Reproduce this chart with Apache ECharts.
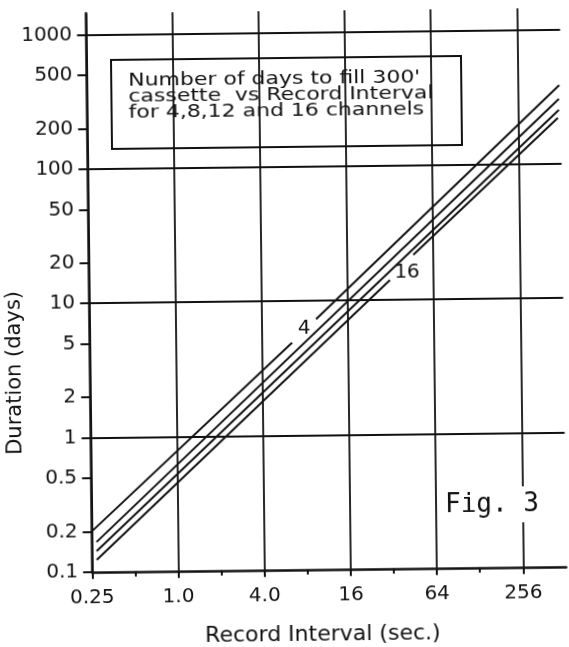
<!DOCTYPE html>
<html><head><meta charset="utf-8">
<script src="https://cdn.jsdelivr.net/npm/echarts@6/dist/echarts.min.js"></script>
<style>
html,body{margin:0;padding:0;background:#fff;overflow:hidden;}
#chart{width:569px;height:647px;transform:rotate(-0.65deg);transform-origin:50% 50%;}
</style></head><body><div id="chart"></div>
<script>
// ---- data ----
const xTickValues = [0.25, 1, 4, 16, 64, 256];
const xTickLabels = ['0.25', '1.0', '4.0', '16', '64', '256'];
const xMinorTicks = [0.5, 2, 8, 32, 128];
const yTickValues = [0.1, 0.2, 0.5, 1, 2, 5, 10, 20, 50, 100, 200, 500, 1000];
const yTickLabels = ['0.1', '0.2', '0.5', '1', '2', '5', '10', '20', '50', '100', '200', '500', '1000'];
const yGridValues = [1, 10, 100, 1000];
const channelNames = ['4 channels', '8 channels', '12 channels', '16 channels'];
const ch4 = [[0.25, 0.2], [6.5, 4.9], [8, '-'], [9.6, 7.3], [500, 385]];
const ch8 = [[0.27, 0.167], [496, 305]];
const ch12 = [[0.27, 0.143], [495, 252]];
const ch16 = [[0.27, 0.123], [31.7, 14.1], [38, '-'], [46.4, 21.6], [486, 220]];
const lineLabelNames = ['4', '16'];
const lineLabelCoords = [[7.9, 6.2], [41.8, 15.9]];
const boxText = ["Number of days to fill 300'", 'cassette  vs Record Interval', 'for 4,8,12 and 16 channels'];
const figText = 'Fig. 3';
const xTitle = 'Record Interval (sec.)';
const yTitle = 'Duration (days)';

// ---- chart ----
const INK = '#111111';
const FONT = 'DejaVu Sans';
function makeFmt(vals, labels) {
  return function (v) {
    let best = 0, bd = Infinity;
    for (let i = 0; i < vals.length; i++) {
      const d = Math.abs(Math.log(v) - Math.log(vals[i]));
      if (d < bd) { bd = d; best = i; }
    }
    return labels[best];
  };
}
const chart = echarts.init(document.getElementById('chart'), null, {renderer: 'canvas'});
const lineSeries = (name, data) => ({
  name, type: 'line', data, xAxisIndex: 0, yAxisIndex: 0,
  symbol: 'none', showSymbol: false, connectNulls: false, silent: true,
  lineStyle: {color: INK, width: 2}, itemStyle: {color: INK}, z: 5
});
const s4 = lineSeries(channelNames[0], ch4);
const s16 = lineSeries(channelNames[3], ch16);
const mkLabel = (i) => ({
  symbol: 'circle', symbolSize: 1, silent: true,
  itemStyle: {color: 'rgba(0,0,0,0)'},
  label: {show: true, position: 'inside', formatter: '{b}', color: INK, fontFamily: FONT, fontSize: 20,
          backgroundColor: '#fff', padding: [1, 2]},
  data: [{name: lineLabelNames[i], coord: lineLabelCoords[i]}]
});
s4.markPoint = mkLabel(0);
s16.markPoint = mkLabel(1);

const boxChildren = [{type: 'rect', shape: {x: 114, y: 58, width: 350, height: 89},
                      style: {fill: '#fff', stroke: INK, lineWidth: 2}}];
boxText.forEach((t, i) => boxChildren.push({
  type: 'text', x: 131, y: 79 + i * 16, scaleX: 1.22, scaleY: 1,
  style: {text: t, font: '18px "DejaVu Sans"', fill: INK, verticalAlign: 'middle', align: 'left'}
}));

chart.setOption({
  animation: false,
  backgroundColor: '#fff',
  grid: {left: 89.3, top: 11, right: 5.6, bottom: 77.2, containLabel: false, outerBoundsMode: 'none'},
  xAxis: [{
    type: 'log', logBase: 4, min: 0.25, max: 512, position: 'bottom',
    axisLine: {show: true, onZero: false, lineStyle: {color: INK, width: 2.5}},
    axisTick: {show: true, customValues: xTickValues, length: 7, inside: false, lineStyle: {color: INK, width: 2}},
    axisLabel: {show: true, customValues: xTickValues, formatter: makeFmt(xTickValues, xTickLabels),
                margin: 16, color: INK, fontFamily: FONT, fontSize: 20},
    splitLine: {show: true, lineStyle: {color: INK, width: 1.8, type: 'solid'}},
    minorTick: {show: false}, minorSplitLine: {show: false},
    name: xTitle, nameLocation: 'middle', nameGap: 54, nameMoveOverlap: false,
    nameTextStyle: {color: INK, fontFamily: FONT, fontSize: 22, padding: [0, 14, 0, 0]}
  }, {
    type: 'log', logBase: 4, min: 0.25, max: 512, position: 'bottom',
    axisLine: {show: false, onZero: false},
    axisTick: {show: true, customValues: xMinorTicks, length: 5, inside: false, lineStyle: {color: INK, width: 2}},
    axisLabel: {show: false}, splitLine: {show: false}
  }],
  yAxis: [{
    type: 'log', logBase: 10, min: 0.1, max: 1450, position: 'left',
    axisLine: {show: true, onZero: false, lineStyle: {color: INK, width: 2.5}},
    axisTick: {show: true, customValues: yTickValues, length: 9, inside: false, lineStyle: {color: INK, width: 2}},
    axisLabel: {show: true, customValues: yTickValues, formatter: makeFmt(yTickValues, yTickLabels),
                margin: 14, color: INK, fontFamily: FONT, fontSize: 20},
    splitLine: {show: false},
    name: yTitle, nameLocation: 'middle', nameGap: 64, nameMoveOverlap: false,
    nameTextStyle: {color: INK, fontFamily: FONT, fontSize: 21, padding: [0, 159, 0, 0]}
  }, {
    type: 'log', logBase: 10, min: 0.1, max: 1450, position: 'left',
    axisLine: {show: false, onZero: false},
    axisTick: {show: false, customValues: yGridValues},
    axisLabel: {show: false},
    splitLine: {show: true, lineStyle: {color: INK, width: 1.8, type: 'solid'}}
  }],
  series: [s4, lineSeries(channelNames[1], ch8), lineSeries(channelNames[2], ch12), s16],
  graphic: [{
    type: 'group', z: 100, children: boxChildren
  }, {
    type: 'text', z: 100, x: 490, y: 507,
    style: {text: figText, font: '26px "DejaVu Sans Mono"', fill: INK, align: 'center', verticalAlign: 'middle',
            backgroundColor: '#fff', padding: [5, 2]}
  }]
});
</script></body></html>
